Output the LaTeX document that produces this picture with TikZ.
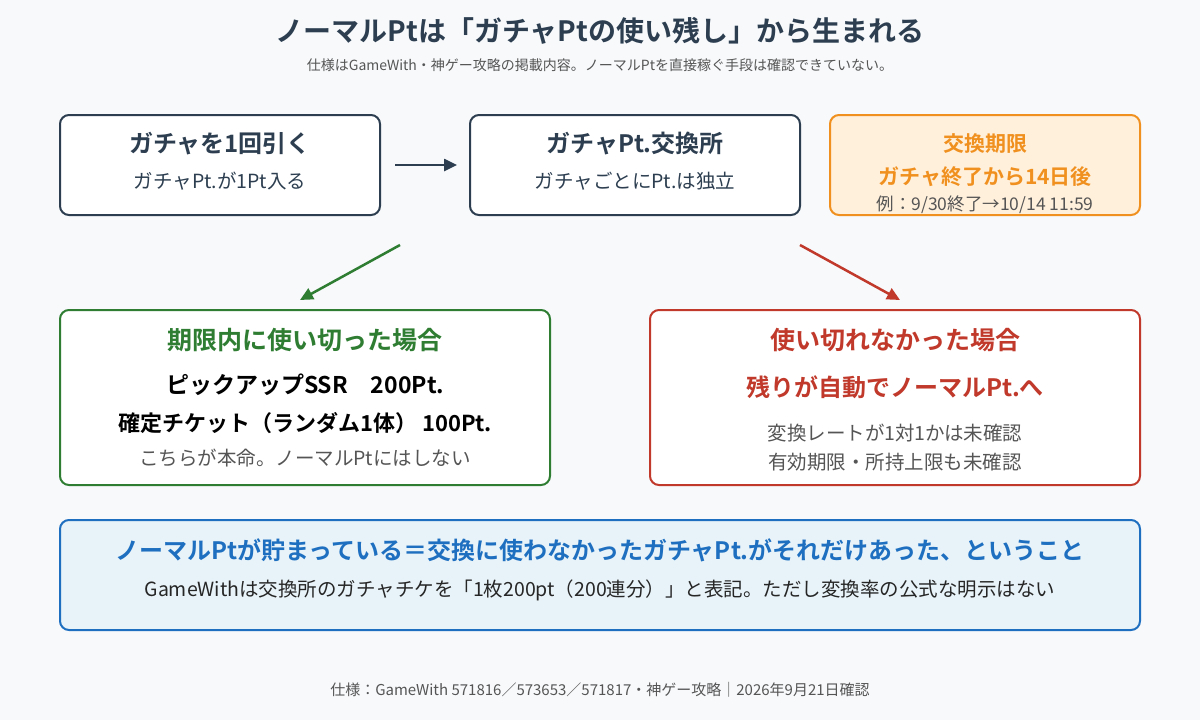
\documentclass[tikz,border=0pt]{standalone}
\usepackage{fontspec}
\setmainfont{Noto Sans CJK JP}[BoldFont={* Bold}]
\usetikzlibrary{arrows.meta}
\definecolor{bg}{HTML}{F7F9FB}
\definecolor{navy}{HTML}{2C3E50}
\definecolor{org}{HTML}{F0901E}
\definecolor{orgfill}{HTML}{FFF0DC}
\definecolor{grn}{HTML}{2E7D32}
\definecolor{rd}{HTML}{C0392B}
\definecolor{blu}{HTML}{1E6FC0}
\definecolor{blufill}{HTML}{E8F3F9}
\definecolor{gry}{HTML}{555555}
\begin{document}
\begin{tikzpicture}[x=1pt,y=-1pt,
 box/.style={draw=#1,line width=2pt,rounded corners=9pt,fill=white},
 t/.style={inner sep=0pt,anchor=center},
 arr/.style={line width=2.5pt,-{Triangle[length=13pt,width=12pt]}}]
\fill[bg] (0,0) rectangle (1200,720);
\node[t,text=navy,font=\fontsize{28}{32}\selectfont\bfseries] (title) at (600,31) {ノーマルPtは「ガチャPtの使い残し」から生まれる};
\node[t,text=gry,font=\fontsize{14}{16}\selectfont] (sub) at (600,65) {仕様はGameWith・神ゲー攻略の掲載内容。ノーマルPtを直接稼ぐ手段は確認できていない。};
\draw[box=navy] (60,115) rectangle (380,215);
\node[t,text=navy,font=\fontsize{24}{28}\selectfont\bfseries] (b1a) at (220,144) {ガチャを1回引く};
\node[t,text=navy,font=\fontsize{19.5}{23}\selectfont] (b1b) at (220,181) {ガチャPt.が1Pt入る};
\draw[box=navy] (470,115) rectangle (800,215);
\node[t,text=navy,font=\fontsize{24}{28}\selectfont\bfseries] (b2a) at (635,144) {ガチャPt.交換所};
\node[t,text=navy,font=\fontsize{19.5}{23}\selectfont] (b2b) at (635,181) {ガチャごとにPt.は独立};
\draw[box=org,fill=orgfill] (830,115) rectangle (1140,215);
\node[t,text=org,font=\fontsize{21}{24}\selectfont\bfseries] (b3a) at (985,144) {交換期限};
\node[t,text=org,font=\fontsize{21}{24}\selectfont\bfseries] (b3b) at (985,177) {ガチャ終了から14日後};
\node[t,text=gry,font=\fontsize{17.5}{20}\selectfont] (b3c) at (985,205) {例：9/30終了→10/14 11:59};
\coordinate (h1) at (395,165); \coordinate (h2) at (457,165);
\draw[arr,navy] (h1) -- (h2);
\coordinate (g1) at (400,245); \coordinate (g2) at (300,300);
\draw[arr,grn] (g1) -- (g2);
\coordinate (r1) at (800,245); \coordinate (r2) at (900,300);
\draw[arr,rd] (r1) -- (r2);
\draw[box=grn] (60,310) rectangle (550,485);
\node[t,text=grn,font=\fontsize{25}{28}\selectfont\bfseries] (ga) at (305,340) {期限内に使い切った場合};
\node[t,text=black,font=\fontsize{23}{26}\selectfont\bfseries] (gb) at (305,385) {ピックアップSSR\quad 200Pt.};
\node[t,text=black,font=\fontsize{22}{26}\selectfont\bfseries] (gc) at (305,423) {確定チケット（ランダム1体）\ 100Pt.};
\node[t,text=gry,font=\fontsize{19.5}{23}\selectfont] (gd) at (305,458) {こちらが本命。ノーマルPtにはしない};
\draw[box=rd] (650,310) rectangle (1140,485);
\node[t,text=rd,font=\fontsize{25}{28}\selectfont\bfseries] (ra) at (895,340) {使い切れなかった場合};
\node[t,text=rd,font=\fontsize{24}{28}\selectfont\bfseries] (rb) at (895,387) {残りが自動でノーマルPt.へ};
\node[t,text=gry,font=\fontsize{19.5}{23}\selectfont] (rc) at (895,433) {変換レートが1対1かは未確認};
\node[t,text=gry,font=\fontsize{19.5}{23}\selectfont] (rd) at (895,462) {有効期限・所持上限も未確認};
\draw[box=blu,fill=blufill] (60,520) rectangle (1140,630);
\node[t,text=blu,font=\fontsize{24}{28}\selectfont\bfseries] (bla) at (600,550) {ノーマルPtが貯まっている＝交換に使わなかったガチャPt.がそれだけあった、ということ};
\node[t,text=black!85,font=\fontsize{19.5}{23}\selectfont] (blb) at (600,590) {GameWithは交換所のガチャチケを「1枚200pt（200連分）」と表記。ただし変換率の公式な明示はない};
\node[t,text=gry,font=\fontsize{15}{18}\selectfont] (foot) at (600,690) {仕様：GameWith 571816／573653／571817・神ゲー攻略｜2026年9月21日確認};
\end{tikzpicture}
\end{document}
